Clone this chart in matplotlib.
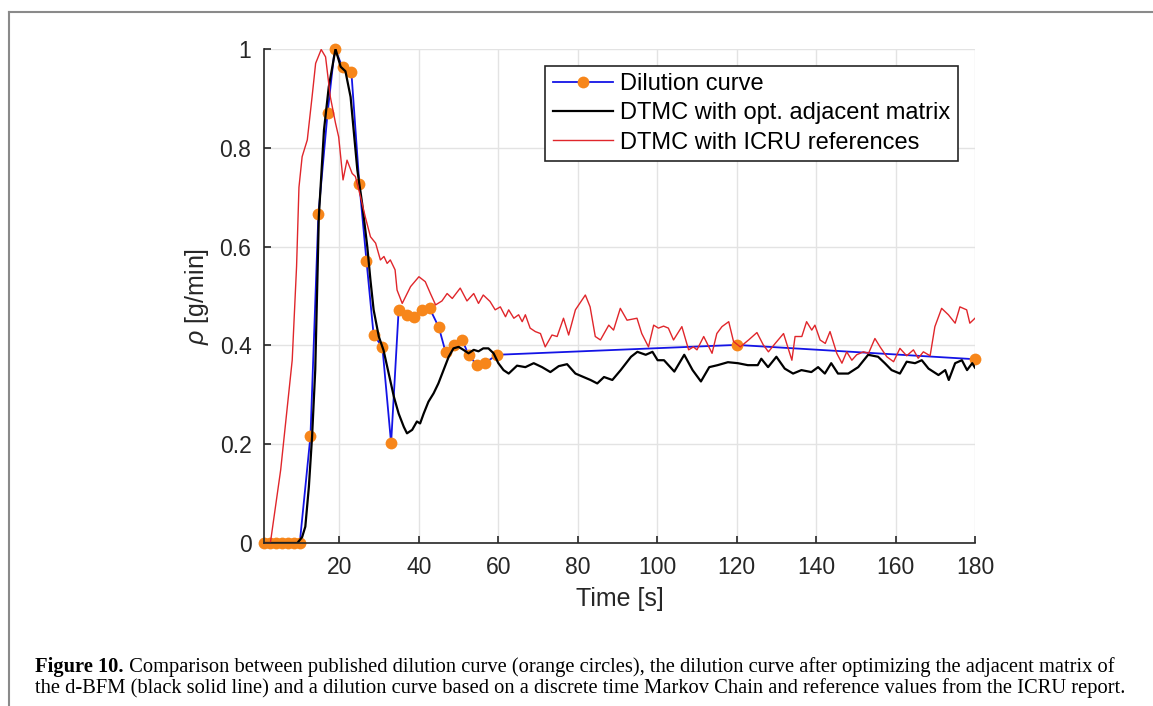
import matplotlib
matplotlib.use('Agg')
import matplotlib.pyplot as plt
from matplotlib.lines import Line2D

plt.rcParams['font.family'] = ['Liberation Sans', 'DejaVu Sans']
plt.rcParams['mathtext.fontset'] = 'custom'
plt.rcParams['mathtext.rm'] = 'Liberation Sans'
plt.rcParams['mathtext.it'] = 'Liberation Sans:italic'

# published dilution curve (measured points)
dil_t = [1, 2.5, 4, 5.5, 7, 8.5, 10, 12.7, 14.7, 17.0, 18.8, 20.8, 23.0, 25.0,
         26.8, 28.6, 30.8, 33.0, 34.9, 37.0, 38.7, 40.8, 42.7, 45.0, 46.7, 48.8,
         50.9, 52.5, 54.6, 56.7, 59.7, 120, 180]
dil_rho = [0, 0, 0, 0, 0, 0, 0, 0.217, 0.666, 0.870, 1.0, 0.963, 0.953, 0.727,
           0.571, 0.421, 0.397, 0.202, 0.472, 0.462, 0.458, 0.472, 0.475, 0.437,
           0.387, 0.401, 0.411, 0.381, 0.360, 0.365, 0.381, 0.401, 0.372]

# DTMC with optimised adjacent matrix
blk_t = [1, 9.4, 10.6, 11.4, 12.3, 13.1, 13.9, 14.5, 14.8, 16.1,
         17.3, 19.0, 20.3, 21.5, 22.8, 24.5, 25.7, 27.0, 27.8, 28.6,
         29.9, 31.1, 32.4, 33.7, 34.9, 36.2, 37.0, 38.3, 39.5, 40.3,
         41.2, 42.4, 43.7, 44.9, 46.2, 47.5, 48.7, 50.0, 51.2, 52.5,
         53.8, 55.0, 56.2, 57.5, 58.8, 60.0, 61.3, 62.6, 64.7, 66.8,
         68.9, 71.0, 73.1, 75.2, 77.3, 79.4, 83.2, 84.9, 86.6, 88.7,
         90.8, 93.4, 95.0, 97.1, 98.8, 100.1, 101.7, 104.3, 106.8, 108.9,
         111.0, 113.1, 115.2, 117.8, 120.3, 122.8, 125.3, 126.2, 127.9, 130.0,
         132.1, 134.2, 136.3, 138.8, 140.5, 142.2, 143.8, 145.5, 148.1, 150.6,
         153.1, 155.6, 157.3, 159.0, 161.1, 162.8, 164.9, 166.6, 168.3, 170.8,
         172.5, 173.4, 175.0, 176.7, 178.0, 179.3, 180]
blk_rho = [0, 0, 0.012, 0.033, 0.114, 0.215, 0.35, 0.553, 0.66, 0.836,
           0.923, 1.0, 0.964, 0.955, 0.903, 0.755, 0.688, 0.6, 0.532, 0.472,
           0.418, 0.39, 0.343, 0.296, 0.262, 0.235, 0.222, 0.229, 0.246, 0.242,
           0.262, 0.286, 0.303, 0.323, 0.35, 0.377, 0.394, 0.397, 0.391, 0.384,
           0.391, 0.388, 0.394, 0.394, 0.384, 0.364, 0.350, 0.343, 0.359, 0.356,
           0.364, 0.356, 0.346, 0.358, 0.362, 0.343, 0.330, 0.323, 0.336, 0.330,
           0.350, 0.377, 0.387, 0.381, 0.387, 0.370, 0.370, 0.347, 0.381, 0.350,
           0.327, 0.356, 0.360, 0.366, 0.364, 0.360, 0.360, 0.373, 0.356, 0.377,
           0.353, 0.343, 0.350, 0.346, 0.356, 0.343, 0.364, 0.343, 0.343, 0.356,
           0.381, 0.377, 0.364, 0.350, 0.343, 0.367, 0.364, 0.370, 0.353, 0.340,
           0.350, 0.330, 0.364, 0.370, 0.350, 0.364, 0.355]

# DTMC with ICRU reference values
red_t = [1, 2.6, 5.2, 8.1, 9.2, 9.8, 10.6, 11.9, 13.1, 14.0,
         15.4, 16.5, 17.7, 19.0, 19.8, 20.9, 21.9, 23.2, 24.0, 25.3,
         26.5, 27.8, 29.1, 30.3, 31.2, 32.0, 32.8, 34.0, 34.5, 35.8,
         37.9, 40.0, 41.6, 42.9, 44.2, 45.8, 47.1, 48.4, 50.4, 52.1,
         53.8, 55.0, 56.2, 57.9, 59.2,
         60.5, 61.8, 62.6, 63.9, 65.1, 66.0, 66.8, 68.0, 69.3, 70.6,
         71.8, 73.5, 74.8, 76.4, 77.7, 79.4, 81.9, 83.1, 84.4, 85.7,
         87.8, 89.0, 90.7, 92.4, 94.9, 96.1, 97.8, 99.1, 100.3, 101.6,
         102.8, 104.1, 106.2, 107.9, 109.1, 110.0, 111.7, 113.8, 115.0, 116.3,
         118.0, 119.2, 120.9, 123.0, 125.1, 126.7, 128.0, 129.7, 131.8, 133.9,
         134.7, 136.4, 137.6, 138.9, 139.7, 141.0, 142.3, 143.5, 145.2, 146.5,
         147.7, 149.0, 150.2, 151.9, 153.2, 154.8, 156.1, 157.8, 159.5, 161.1,
         162.8, 164.5, 165.7, 167.0, 168.7, 169.9, 171.6, 173.3, 175.0, 176.2,
         177.9, 178.7, 180]
red_rho = [0, 0, 0.148, 0.37, 0.56, 0.72, 0.782, 0.816, 0.903, 0.971,
           0.999, 0.984, 0.903, 0.85, 0.822, 0.735, 0.775, 0.748, 0.742, 0.701,
           0.66, 0.62, 0.607, 0.573, 0.58, 0.566, 0.573, 0.553, 0.512, 0.485,
           0.519, 0.539, 0.529, 0.505, 0.482, 0.49, 0.505, 0.495, 0.516, 0.49,
           0.505, 0.485, 0.502, 0.489, 0.472,
           0.478, 0.458, 0.472, 0.455, 0.462, 0.448, 0.462, 0.435, 0.428, 0.424,
           0.397, 0.421, 0.418, 0.455, 0.421, 0.472, 0.502, 0.478, 0.418, 0.411,
           0.441, 0.431, 0.475, 0.451, 0.455, 0.424, 0.397, 0.441, 0.435, 0.439,
           0.435, 0.411, 0.438, 0.391, 0.397, 0.391, 0.418, 0.384, 0.424, 0.438,
           0.448, 0.408, 0.397, 0.411, 0.426, 0.401, 0.387, 0.404, 0.424, 0.370,
           0.418, 0.418, 0.448, 0.431, 0.441, 0.411, 0.404, 0.428, 0.384, 0.364,
           0.387, 0.370, 0.381, 0.387, 0.384, 0.414, 0.397, 0.377, 0.367, 0.394,
           0.379, 0.391, 0.374, 0.387, 0.379, 0.438, 0.475, 0.462, 0.445, 0.478,
           0.472, 0.445, 0.455]

x_ticks = [20, 40, 60, 80, 100, 120, 140, 160, 180]
y_ticks = [0, 0.2, 0.4, 0.6, 0.8, 1]
y_ticklabels = ['0', '0.2', '0.4', '0.6', '0.8', '1']

W, H = 1153, 706
fig = plt.figure(figsize=(W / 100, H / 100), dpi=100)
ax = fig.add_axes([264 / W, 163 / H, 711 / W, 494 / H])

ax.plot(dil_t, dil_rho, color='#1414e6', lw=1.3, marker='o', ms=8.5,
        mfc='#f7861a', mec='#f7861a', mew=0, clip_on=False,
        label='Dilution curve')
ax.plot(blk_t, blk_rho, color='black', lw=1.6,
        label='DTMC with opt. adjacent matrix')
ax.plot(red_t, red_rho, color='#e0262b', lw=1.0,
        label='DTMC with ICRU references')

ax.set_xlim(1, 180)
ax.set_ylim(0, 1)
ax.set_xticks(x_ticks)
ax.set_yticks(y_ticks)
ax.set_yticklabels(y_ticklabels)
ax.grid(color='#e3e3e3', lw=1)
ax.set_axisbelow(True)
for s in ['top', 'right']:
    ax.spines[s].set_visible(False)
for s in ['left', 'bottom']:
    ax.spines[s].set_color('#262626')
    ax.spines[s].set_linewidth(1.2)
ax.tick_params(direction='in', length=5, width=1.2, color='#262626',
               labelcolor='#262626', labelsize=16.5, pad=9)

ax.set_xlabel('Time [s]', fontsize=18, color='#262626', labelpad=6)
ax.set_ylabel(r'$\rho$ [g/min]', fontsize=18, color='#262626', labelpad=6)

leg = ax.legend(loc='upper right', bbox_to_anchor=(0.976, 0.966),
                fontsize=17, fancybox=False, framealpha=1,
                edgecolor='#262626', borderpad=0.32, handlelength=2.55,
                handletextpad=0.3, labelspacing=0.3, borderaxespad=0)
leg.get_frame().set_linewidth(1.2)

# page frame around the figure
fig.add_artist(Line2D([9 / W, 9 / W], [0, 1 - 12 / H],
                      transform=fig.transFigure, color='#8a8a8a', lw=1.5))
fig.add_artist(Line2D([9 / W, 1], [1 - 12 / H, 1 - 12 / H],
                      transform=fig.transFigure, color='#8a8a8a', lw=1.5))

# caption
cap_font = ['Liberation Serif', 'DejaVu Serif']
cap_size = 14.8
t1 = fig.text(35 / W, 1 - 672 / H, 'Figure 10.', family=cap_font,
              fontsize=cap_size, weight='bold', va='baseline')
ax.annotate(' Comparison between published dilution curve (orange circles), '
            'the dilution curve after optimizing the adjacent matrix of',
            xy=(1, 0), xycoords=t1, va='bottom', ha='left',
            family=cap_font, fontsize=cap_size, annotation_clip=False)
fig.text(35 / W, 1 - 693 / H,
         'the d-BFM (black solid line) and a dilution curve based on a discrete '
         'time Markov Chain and reference values from the ICRU report.',
         family=cap_font, fontsize=cap_size, va='baseline')

fig.savefig('out.png', dpi=100)
